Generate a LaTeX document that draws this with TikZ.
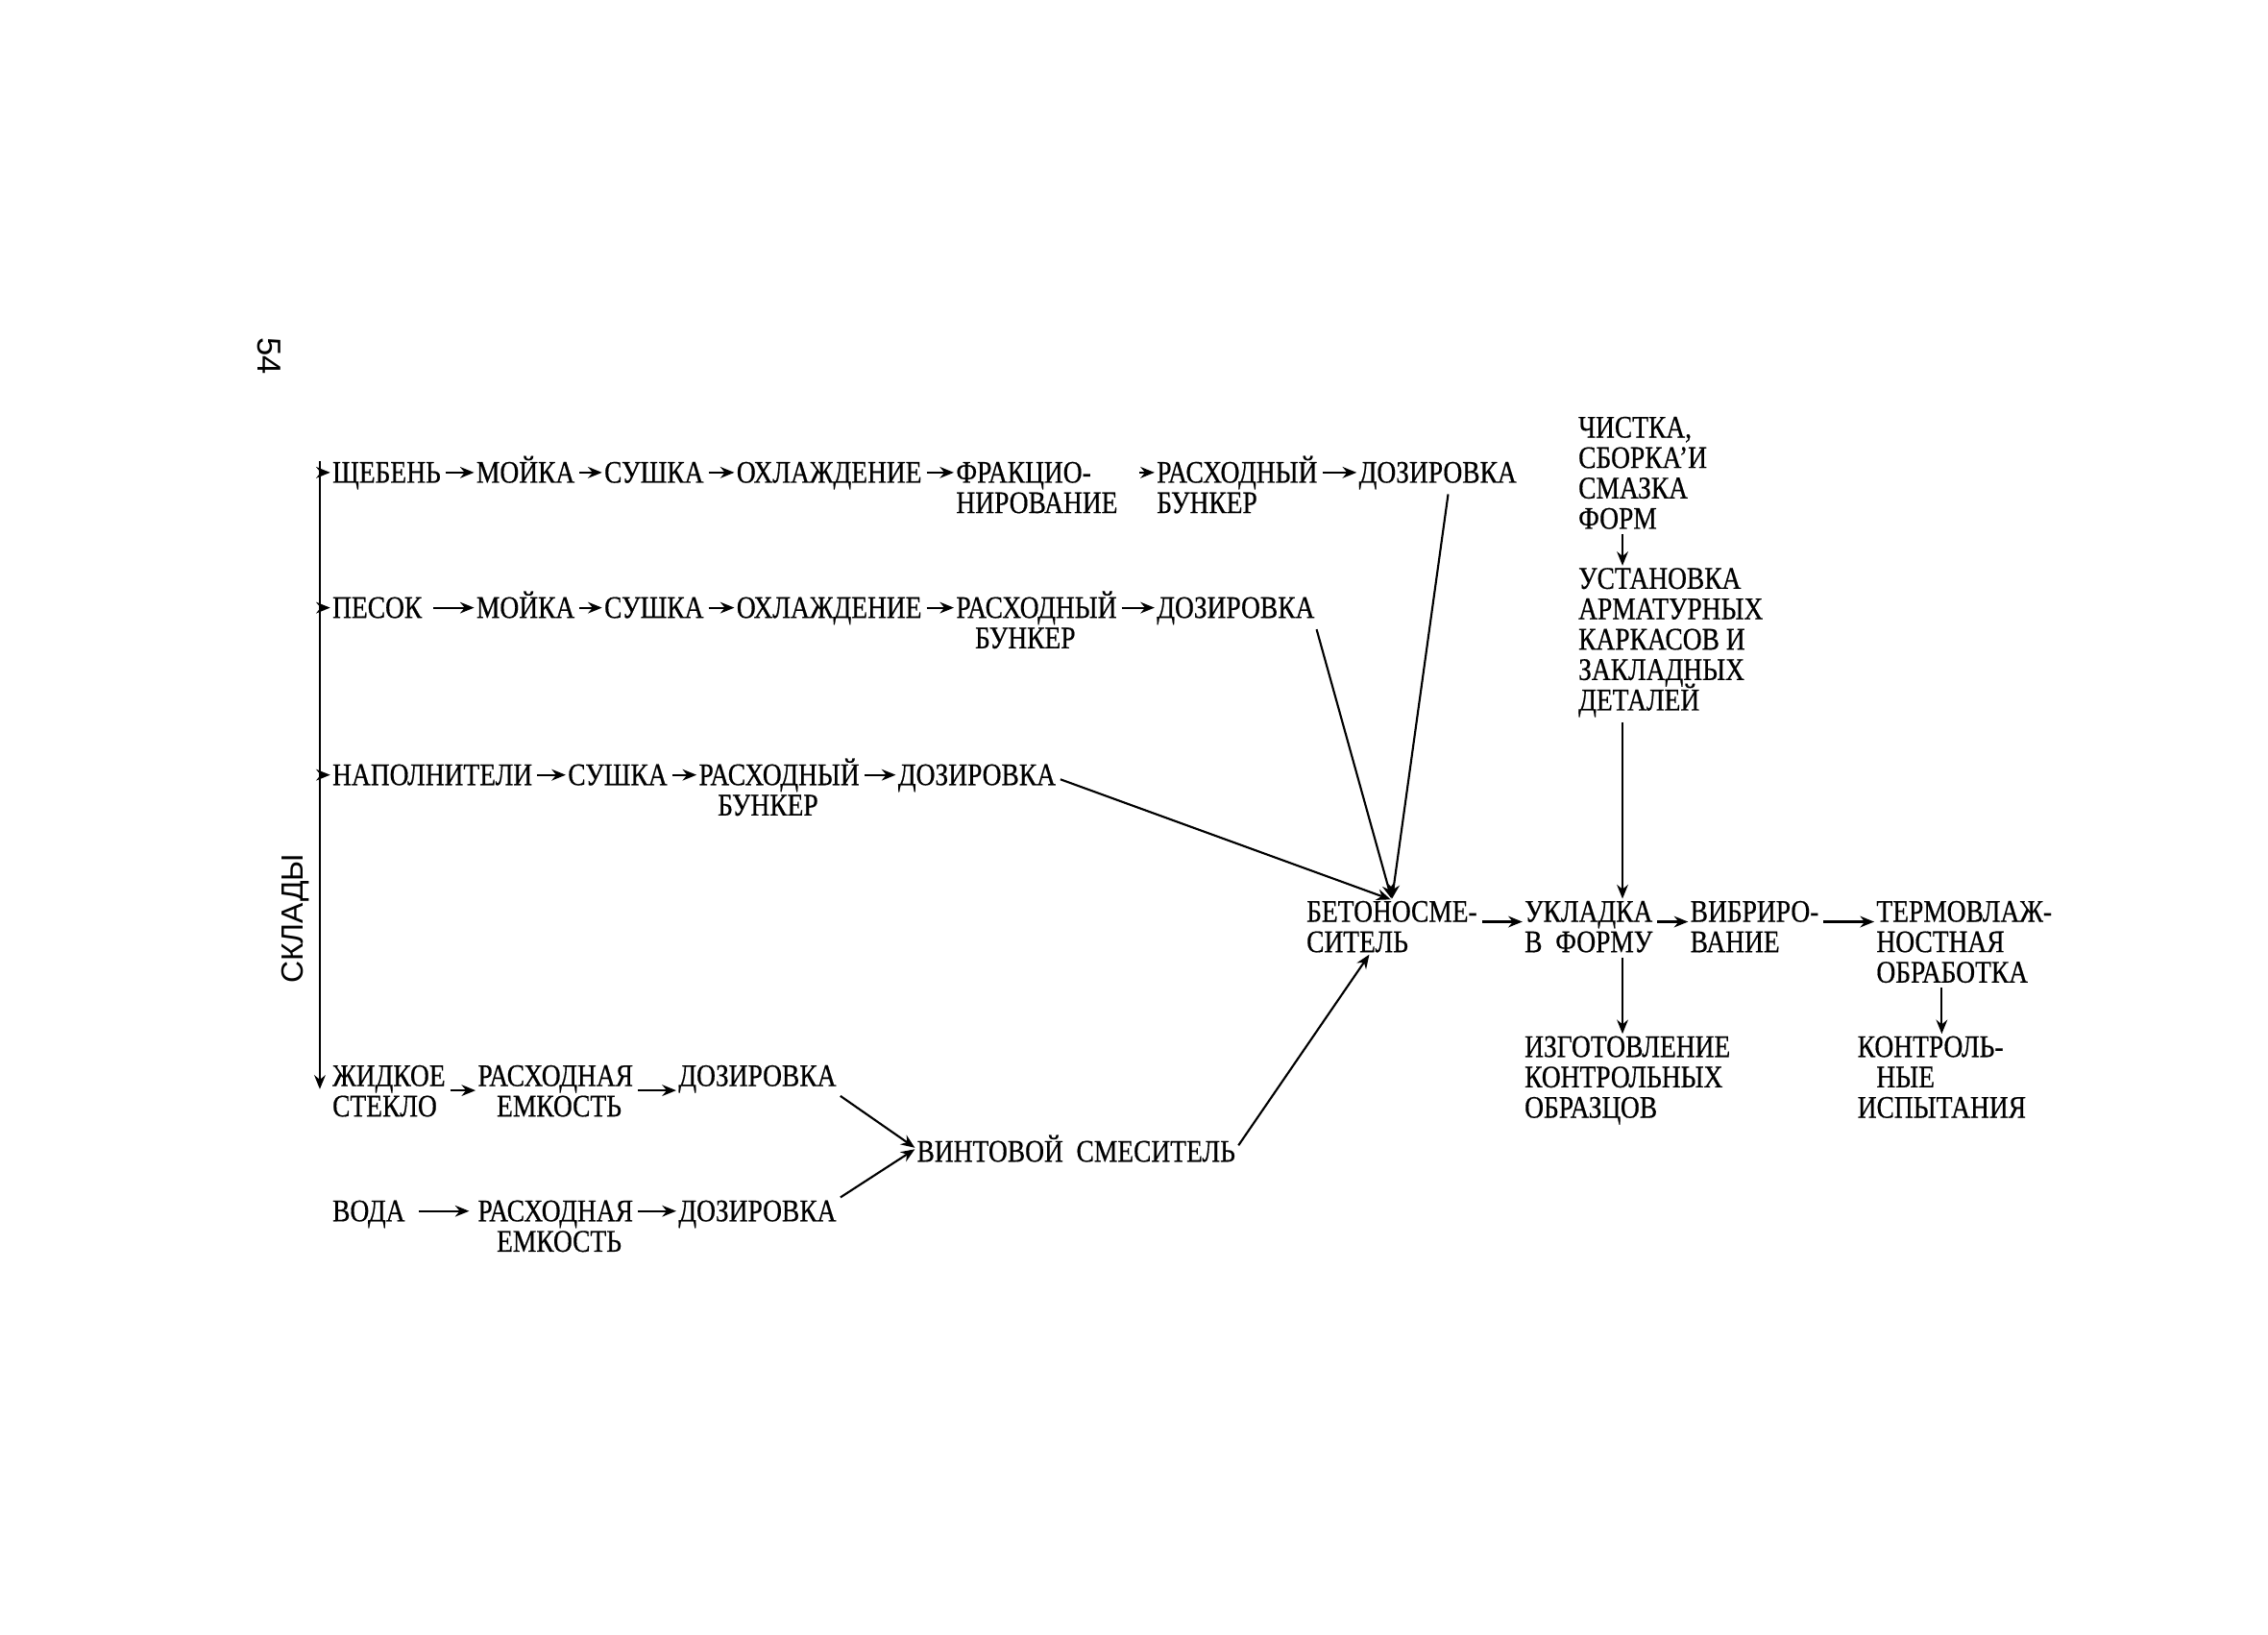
\documentclass[tikz,border=0pt]{standalone}
\usepackage{fontspec}
\setmainfont[FakeStretch=0.84,FakeBold=0.5]{Liberation Serif}
\setsansfont{Liberation Sans}
\usepackage{tikz}
\usetikzlibrary{arrows.meta}

\begin{document}
\begin{tikzpicture}[x=0.2mm,y=-0.2mm,line width=0.8pt,
        op/.style={font={\rmfamily\fontsize{12.3}{11.9}\selectfont\lineskiplimit=-20pt},inner sep=0pt,anchor=base west,align=left},
        arr/.style={-{Stealth[length=5.5pt,width=4.4pt]},shorten <=1.5pt,shorten >=0.5pt}]
        \useasboundingbox (0,0) rectangle (1560,1124);
        % helper lines (nodes sit on the base line of their last line)
        \coordinate (trunk) at (220,0);
        \coordinate (axis) at (1116,0);
        \coordinate (r1) at (0,325);
        \coordinate (r2) at (0,418);
        \coordinate (r3) at (0,533);
        \coordinate (r4) at (0,750);
        \coordinate (r5) at (0,833);
        \coordinate (r6) at (0,634);
        \node[font=\sffamily\fontsize{13}{13}\selectfont,rotate=-90] (page) at (185,245) {54};
        \node[font=\sffamily\fontsize{12}{12}\selectfont,rotate=90] (sklady) at (203,632) {СКЛАДЫ};
        % row 1
        \node[op] (shch) at (228,332) {ЩЕБЕНЬ};
        \node[op] (moi1) at (327,332) {МОЙКА};
        \node[op] (sush1) at (415,332) {СУШКА};
        \node[op] (ohl1) at (506,332) {ОХЛАЖДЕНИЕ};
        \node[op] (frak) at (657,352.9) {ФРАКЦИО-\\НИРОВАНИЕ};
        \node[op] (ras1) at (795,352.9) {РАСХОДНЫЙ\\БУНКЕР};
        \node[op] (doz1) at (934,332) {ДОЗИРОВКА};
        % row 2
        \node[op] (pesok) at (228,425) {ПЕСОК};
        \node[op] (moi2) at (327,425) {МОЙКА};
        \node[op] (sush2) at (415,425) {СУШКА};
        \node[op] (ohl2) at (506,425) {ОХЛАЖДЕНИЕ};
        \node[op] (ras2) at (657,445.9) {РАСХОДНЫЙ\\\hspace*{0.6em}БУНКЕР};
        \node[op] (doz2) at (795,425) {ДОЗИРОВКА};
        % row 3
        \node[op] (napol) at (228,540) {НАПОЛНИТЕЛИ};
        \node[op] (sush3) at (390,540) {СУШКА};
        \node[op] (ras3) at (480,560.9) {РАСХОДНЫЙ\\\hspace*{0.6em}БУНКЕР};
        \node[op] (doz3) at (617,540) {ДОЗИРОВКА};
        % rows 4 and 5
        \node[op] (zhid) at (228,767.9) {ЖИДКОЕ\\СТЕКЛО};
        \node[op] (ras4) at (328,767.9) {РАСХОДНАЯ\\\hspace*{0.6em}ЕМКОСТЬ};
        \node[op] (doz4) at (466,747) {ДОЗИРОВКА};
        \node[op] (voda) at (228,840) {ВОДА};
        \node[op] (ras5) at (328,860.9) {РАСХОДНАЯ\\\hspace*{0.6em}ЕМКОСТЬ};
        \node[op] (doz5) at (466,840) {ДОЗИРОВКА};
        \node[op] (vint) at (630,799) {ВИНТОВОЙ\ \ СМЕСИТЕЛЬ};
        % mixing and forming
        \node[op] (bet) at (898,654.9) {БЕТОНОСМЕ-\\СИТЕЛЬ};
        \node[op] (ukl) at (1048,654.9) {УКЛАДКА\\В\ \ ФОРМУ};
        \node[op] (vib) at (1162,654.9) {ВИБРИРО-\\ВАНИЕ};
        \node[op] (term) at (1290,675.8) {ТЕРМОВЛАЖ-\\НОСТНАЯ\\ОБРАБОТКА};
        \node[op] (izg) at (1048,768.8) {ИЗГОТОВЛЕНИЕ\\КОНТРОЛЬНЫХ\\ОБРАЗЦОВ};
        \node[op] (kontr) at (1277,768.8) {КОНТРОЛЬ-\\\hspace*{0.6em}НЫЕ\\ИСПЫТАНИЯ};
        \node[op] (chist) at (1085,363.7) {ЧИСТКА,\\СБОРКА’И\\СМАЗКА\\ФОРМ};
        \node[op] (ust) at (1085,488.6) {УСТАНОВКА\\АРМАТУРНЫХ\\КАРКАСОВ И\\ЗАКЛАДНЫХ\\ДЕТАЛЕЙ};
        % store line
        \draw[arr,shorten <=0pt] (shch.north -| trunk) -- (r4 -| trunk);
        \draw[arr,shorten <=0pt] (trunk |- r1) -- (shch.west |- r1);
        \draw[arr,shorten <=0pt] (trunk |- r2) -- (pesok.west |- r2);
        \draw[arr,shorten <=0pt] (trunk |- r3) -- (napol.west |- r3);
        % flows
        \draw[arr] (shch.east |- r1) -- (moi1.west |- r1);
        \draw[arr] (moi1.east |- r1) -- (sush1.west |- r1);
        \draw[arr] (sush1.east |- r1) -- (ohl1.west |- r1);
        \draw[arr] (ohl1.east |- r1) -- (frak.west |- r1);
        \draw[arr,shorten <=8pt] (frak.east |- r1) -- (ras1.west |- r1);
        \draw[arr] (ras1.east |- r1) -- (doz1.west |- r1);
        \draw[arr,shorten <=4pt] (pesok.east |- r2) -- (moi2.west |- r2);
        \draw[arr] (moi2.east |- r2) -- (sush2.west |- r2);
        \draw[arr] (sush2.east |- r2) -- (ohl2.west |- r2);
        \draw[arr] (ohl2.east |- r2) -- (ras2.west |- r2);
        \draw[arr] (ras2.east |- r2) -- (doz2.west |- r2);
        \draw[arr] (napol.east |- r3) -- (sush3.west |- r3);
        \draw[arr] (sush3.east |- r3) -- (ras3.west |- r3);
        \draw[arr] (ras3.east |- r3) -- (doz3.west |- r3);
        \draw[arr] (zhid.east |- r4) -- (ras4.west |- r4);
        \draw[arr] (ras4.east |- r4) -- (doz4.west |- r4);
        \draw[arr,shorten <=5pt,shorten >=3pt] (voda.east |- r5) -- (ras5.west |- r5);
        \draw[arr] (ras5.east |- r5) -- (doz5.west |- r5);
        \draw[arr] (doz4.south east) -- (vint.west);
        \draw[arr] (doz5.north east) -- (vint.west);
        \draw[arr] ([xshift=1.5mm]doz1.south) -- (bet.north);
        \draw[arr] (doz2.south east) -- (bet.north);
        \draw[arr] (doz3.east) -- (bet.north);
        \draw[arr] (vint.east) -- ([xshift=-3mm]bet.south);
        \draw[arr] (bet.east |- r6) -- (ukl.west |- r6);
        \draw[arr] (ukl.east |- r6) -- (vib.west |- r6);
        \draw[arr] (vib.east |- r6) -- (term.west |- r6);
        \draw[arr] (chist.south -| axis) -- (ust.north -| axis);
        \draw[arr] (ust.south -| axis) -- (ukl.north -| axis);
        \draw[arr] (ukl.south -| axis) -- (izg.north -| axis);
        \draw[arr] (term.south -| kontr.north) -- (kontr.north);
\end{tikzpicture}
\end{document}
